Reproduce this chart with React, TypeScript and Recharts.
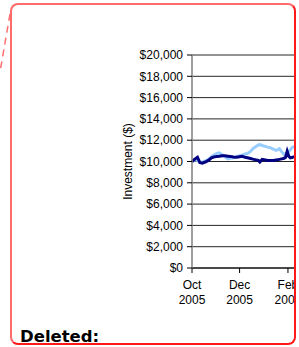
import React from "react";
import { LineChart, Line, XAxis, YAxis, CartesianGrid } from "recharts";

// sample dates and the two investment series
const dates = [
  "2005-10-01", "2005-10-05", "2005-10-08", "2005-10-11", "2005-10-14", "2005-10-18",
  "2005-10-22", "2005-10-26", "2005-10-29", "2005-11-02", "2005-11-05", "2005-11-09",
  "2005-11-12", "2005-11-16", "2005-11-19", "2005-11-23", "2005-11-27", "2005-12-01",
  "2005-12-04", "2005-12-08", "2005-12-11", "2005-12-15", "2005-12-18", "2005-12-22",
  "2005-12-25", "2005-12-27", "2005-12-30", "2006-01-03", "2006-01-06", "2006-01-10",
  "2006-01-13", "2006-01-17", "2006-01-21", "2006-01-24", "2006-01-27", "2006-01-29",
  "2006-01-31", "2006-02-02", "2006-02-04", "2006-02-07", "2006-02-09",
];
const lightSeries = [
  10000, 10150, 10100, 9900, 9950, 10050, 10200, 10450, 10600, 10750, 10800, 10600,
  10450, 10250, 10300, 10350, 10450, 10550, 10600, 10700, 10750, 10950, 11200, 11400,
  11550, 11580, 11500, 11420, 11350, 11280, 11150, 11050, 11200, 10900, 10650, 10750,
  10800, 10950, 11100, 11350, 11400,
];
const navySeries = [
  10000, 10250, 10400, 9900, 9850, 9950, 10100, 10350, 10420, 10480, 10500, 10540,
  10530, 10500, 10480, 10420, 10400, 10450, 10480, 10400, 10350, 10280, 10220, 10150,
  10100, 9950, 10200, 10150, 10100, 10100, 10100, 10150, 10200, 10250, 10300, 10400,
  10950, 10500, 10350, 10400, 10450,
];
const xTicks = ["2005-10-01", "2005-12-01", "2006-02-01", "2006-04-01"];
const yTicks = [0, 2000, 4000, 6000, 8000, 10000, 12000, 14000, 16000, 18000, 20000];
const monthNames = ["Jan", "Feb", "Mar", "Apr", "May", "Jun", "Jul", "Aug", "Sep", "Oct", "Nov", "Dec"];

const toTime = (s: string) => new Date(s + "T00:00:00Z").getTime();

const data = dates.map((d, i) => ({
  t: toTime(d),
  light: lightSeries[i],
  navy: navySeries[i],
}));

const font = "'Liberation Sans', Arial, sans-serif";

function DateTick(props: any) {
  const { x, y, payload } = props;
  const d = new Date(payload.value);
  return (
    <text x={x} y={y} textAnchor="middle" fill="#000" fontSize={12} fontFamily={font}>
      <tspan x={x} dy={14}>{monthNames[d.getUTCMonth()]}</tspan>
      <tspan x={x} dy={15}>{d.getUTCFullYear()}</tspan>
    </text>
  );
}

export default function App() {
  return (
    <div style={{ position: "absolute", left: 0, top: 0, width: 299, height: 347, overflow: "hidden", background: "#fff" }}>
      <svg width={20} height={80} style={{ position: "absolute", left: 0, top: 0 }}>
        <line x1={10} y1={14} x2={0} y2={72} stroke="#ff6f6f" strokeWidth={1.5} strokeDasharray="7 5" />
      </svg>
      <div
        style={{
          position: "absolute",
          left: 10,
          top: 3,
          width: 282,
          height: 338,
          border: "2px solid #ff6b6b",
          borderRightColor: "#ff1a1a",
          borderBottomColor: "#ff1a1a",
          borderRadius: 8,
          overflow: "hidden",
        }}
      >
        <div style={{ position: "absolute", left: 0, top: 0 }}>
          <LineChart width={332} height={313} data={data} margin={{ top: 50, right: 10, left: 0, bottom: 0 }}>
            <CartesianGrid horizontal vertical={false} stroke="#000" strokeOpacity={0.85} />
            <XAxis
              dataKey="t"
              type="number"
              scale="time"
              domain={[toTime("2005-10-01"), toTime("2006-04-01")]}
              ticks={xTicks.map(toTime)}
              tick={<DateTick />}
              tickSize={5}
              tickLine={{ stroke: "#000" }}
              axisLine={{ stroke: "#000" }}
              height={50}
              interval={0}
            />
            <YAxis
              type="number"
              domain={[0, 20000]}
              ticks={yTicks}
              interval={0}
              width={180}
              tickSize={5}
              tickMargin={4}
              tickLine={{ stroke: "#000" }}
              axisLine={{ stroke: "#808080", strokeWidth: 1.5 }}
              tick={{ fill: "#000", fontSize: 12, fontFamily: font }}
              tickFormatter={(v: number) => "$" + v.toLocaleString("en-US")}
              label={{
                value: "Investment ($)",
                angle: -90,
                position: "center",
                dx: 26,
                style: { fill: "#000", fontSize: 12, fontFamily: font, textAnchor: "middle" },
              }}
            />
            <Line type="linear" dataKey="light" stroke="#99ccff" strokeWidth={3} dot={false} isAnimationActive={false} />
            <Line type="linear" dataKey="navy" stroke="#000080" strokeWidth={3} dot={false} isAnimationActive={false} />
          </LineChart>
        </div>
      </div>
      <div
        style={{
          position: "absolute",
          left: 20,
          top: 329,
          fontFamily: "'DejaVu Sans', Verdana, sans-serif",
          fontWeight: "bold",
          fontSize: 16.5,
          lineHeight: "16px",
          color: "#000",
        }}
      >
        Deleted:
      </div>
    </div>
  );
}
